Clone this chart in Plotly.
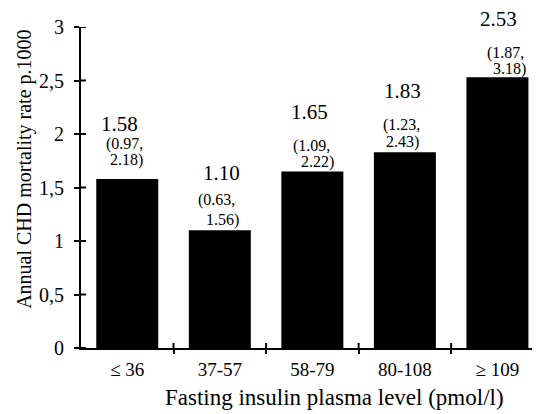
import plotly.graph_objects as go

categories = ["≤ 36", "37-57", "58-79", "80-108", "≥ 109"]
rates = [1.58, 1.10, 1.65, 1.83, 2.53]
ci_low = [0.97, 0.63, 1.09, 1.23, 1.87]
ci_high = [2.18, 1.56, 2.22, 2.43, 3.18]
y_ticks = [0, 0.5, 1, 1.5, 2, 2.5, 3]
y_tick_text = ["0", "0,5", "1", "1,5", "2", "2,5", "3"]

# layout offsets (pixels) for the labels above each bar
val_shift = [55, 57, 59, 61, 58]
ci1_shift = [35, 30, 25, 27, 24]
ci2_shift = [19, 10, 9, 10, 8]
val_x = [-8, 2, -3, -2, 1]
ci1_x = [-3, -3, -1, -3, 8]
ci2_x = [-1, 3, 5, -2, 12]

FONT = "Liberation Serif"

fig = go.Figure()
fig.add_trace(go.Bar(
    x=list(range(len(categories))), y=rates, width=0.67,
    marker=dict(color="black", line=dict(width=0)),
    hoverinfo="skip",
))

ann = []
for i, v in enumerate(rates):
    ann.append(dict(x=i, y=v, xref="x", yref="y", text=f"{v:.2f}", showarrow=False,
                    yanchor="middle", xanchor="center", yshift=val_shift[i], xshift=val_x[i],
                    font=dict(family=FONT, size=21, color="black")))
    ann.append(dict(x=i, y=v, xref="x", yref="y", text=f"({ci_low[i]:.2f},", showarrow=False,
                    yanchor="middle", xanchor="center", yshift=ci1_shift[i], xshift=ci1_x[i],
                    font=dict(family=FONT, size=16, color="black")))
    ann.append(dict(x=i, y=v, xref="x", yref="y", text=f"{ci_high[i]:.2f})", showarrow=False,
                    yanchor="middle", xanchor="center", yshift=ci2_shift[i], xshift=ci2_x[i],
                    font=dict(family=FONT, size=16, color="black")))

ann.append(dict(x=0.553, y=0, xref="paper", yref="paper", text="Fasting insulin plasma level (pmol/l)",
                showarrow=False, yanchor="middle", xanchor="center", yshift=-49,
                font=dict(family=FONT, size=23, color="black")))
ann.append(dict(x=0, y=0.555, xref="paper", yref="paper", text="Annual CHD mortality rate p.1000",
                showarrow=False, yanchor="middle", xanchor="center", xshift=-56, textangle=-90,
                font=dict(family=FONT, size=20, color="black")))

shapes = []
for t in y_ticks:
    shapes.append(dict(type="line", xref="paper", yref="y", xsizemode="pixel", xanchor=0,
                       x0=0, x1=5, y0=t, y1=t, line=dict(color="black", width=2)))
for b in range(len(categories) - 1):
    shapes.append(dict(type="line", xref="x", yref="paper", ysizemode="pixel", yanchor=0,
                       x0=b + 0.5, x1=b + 0.5, y0=0, y1=5, line=dict(color="black", width=2)))

# page body has an 8px default margin: size the figure so it fits the 540x414 window
fig.update_layout(
    width=532, height=406,
    margin=dict(l=73, r=0, t=19, b=66),
    paper_bgcolor="white", plot_bgcolor="white",
    showlegend=False,
    annotations=ann, shapes=shapes,
)
fig.update_xaxes(
    range=[-0.5, 4.46], tickmode="array",
    tickvals=list(range(len(categories))), ticktext=categories,
    ticks="", showline=True, linecolor="black", linewidth=2,
    showgrid=False, zeroline=False, ticklabelstandoff=3,
    tickfont=dict(family=FONT, size=19, color="black"),
)
fig.add_trace(go.Scatter(x=[], y=[], xaxis="x2", showlegend=False))
fig.update_layout(xaxis2=dict(
    overlaying="x", side="bottom", range=[-0.5, 4.46], tickmode="array",
    tickvals=[b + 0.5 for b in range(len(categories) - 1)], ticks="outside", ticklen=5,
    tickwidth=2, tickcolor="black", showticklabels=False, showline=False,
    showgrid=False, zeroline=False, anchor="y",
))
fig.update_yaxes(
    range=[0, 3], tickmode="array", tickvals=y_ticks, ticktext=y_tick_text,
    ticks="outside", ticklen=5, tickwidth=2, tickcolor="black",
    showline=True, linecolor="black", linewidth=2,
    showgrid=False, zeroline=False, ticklabelstandoff=6,
    tickfont=dict(family=FONT, size=20, color="black"),
)

fig.write_html("out.html")
